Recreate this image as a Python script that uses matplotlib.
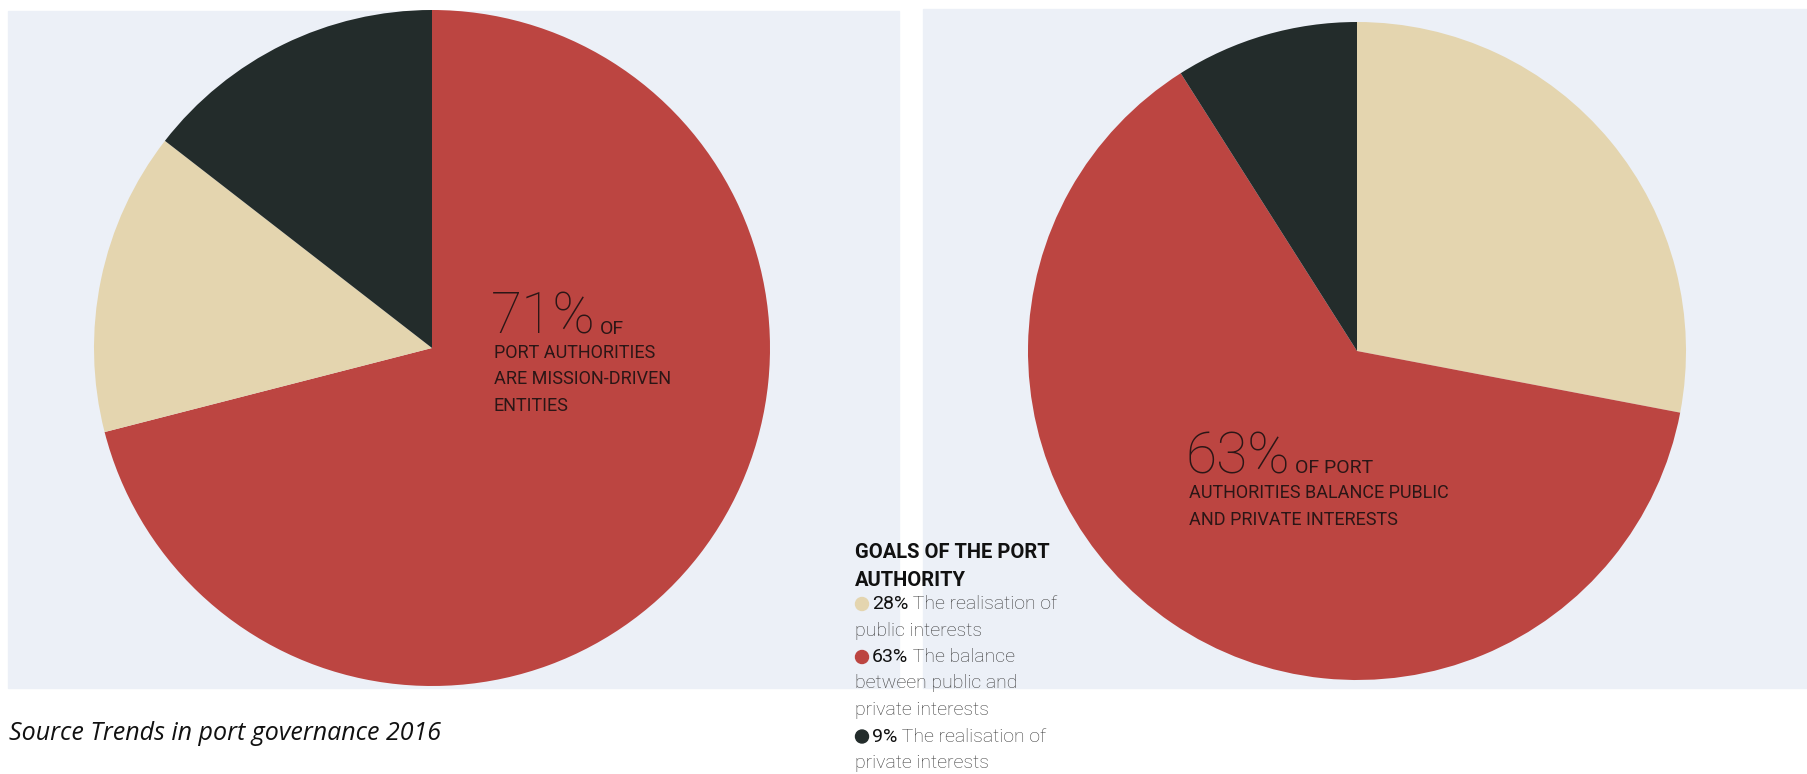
import matplotlib.pyplot as plt
from matplotlib.patches import Rectangle, Circle

W, H = 1808, 774

# share of port authorities
mission_driven = [71, 14.5, 14.5]   # left pie: red (mission-driven), beige, dark
goals = [28, 63, 9]                 # right pie: public, balance, private
left_colors = ['#BC4541', '#E4D5AF', '#232C2B']
goal_colors = ['#E4D5AF', '#BC4541', '#232C2B']

legend_title = ['GOALS OF THE PORT', 'AUTHORITY']
legend_items = [
    ('28%', ' The realisation of', ['public interests']),
    ('63%', ' The balance', ['between public and', 'private interests']),
    ('9%', ' The realisation of', ['private interests']),
]

BG = '#ECF0F7'
TXT_RED = '#2B1616'
LIGHT = 'Roboto'


def Y(y):
    return H - y


fig = plt.figure(figsize=(W / 100, H / 100), dpi=100)
ax = fig.add_axes([0, 0, 1, 1])

# panel backgrounds
ax.add_patch(Rectangle((8, Y(688)), 891, 677, color=BG, zorder=0))
ax.add_patch(Rectangle((923, Y(688)), 885, 679, color=BG, zorder=0))

# both pies run clockwise from 12 o'clock
ax.pie(mission_driven, colors=left_colors, startangle=90, counterclock=False,
       center=(432, Y(348)), radius=338, wedgeprops=dict(linewidth=0))
ax.pie(goals, colors=goal_colors, startangle=90, counterclock=False,
       center=(1357, Y(351)), radius=329, wedgeprops=dict(linewidth=0))

ax.set_xlim(0, W)
ax.set_ylim(0, H)
ax.set_aspect('auto')
ax.axis('off')

r = fig.canvas.get_renderer()


def big_pct(x, y, pct, rest):
    t = ax.text(x, Y(y), pct, fontsize=41, fontfamily=LIGHT, fontweight='light',
                color=TXT_RED, va='baseline', ha='left')
    bb = t.get_window_extent(renderer=r)
    ax.text(bb.x1 + 4, Y(y), rest, fontsize=14, fontfamily='Roboto',
            color=TXT_RED, va='baseline', ha='left')


big_pct(491, 334, '71%', 'OF')
for i, line in enumerate(['PORT AUTHORITIES', 'ARE MISSION-DRIVEN', 'ENTITIES']):
    ax.text(494, Y(353 + 26.5 * i), line, fontsize=13, fontfamily='Roboto',
            color=TXT_RED, va='center', ha='left')

big_pct(1186, 473, '63%', 'OF PORT')
for i, line in enumerate(['AUTHORITIES BALANCE PUBLIC', 'AND PRIVATE INTERESTS']):
    ax.text(1189, Y(493.5 + 26.5 * i), line, fontsize=13, fontfamily='Roboto',
            color=TXT_RED, va='center', ha='left')

# legend block
for i, line in enumerate(legend_title):
    ax.text(855, Y(553 + 27 * i), line, fontsize=14.5, fontfamily='Roboto',
            fontweight='bold', color='#111111', va='center', ha='left')

yy = 604
for (pct, head, tail), col in zip(legend_items, goal_colors):
    ax.add_patch(Circle((862, Y(yy)), 6.5, color=col, zorder=3))
    t = ax.text(872, Y(yy), pct, fontsize=14, fontfamily='Roboto',
                color='#111111', va='center', ha='left')
    bb = t.get_window_extent(renderer=r)
    ax.text(bb.x1, Y(yy), head, fontsize=14, fontfamily=LIGHT,
            fontweight='light', color='#3A3A3A', va='center', ha='left')
    for line in tail:
        yy += 26.5
        ax.text(855, Y(yy), line, fontsize=14, fontfamily=LIGHT,
                fontweight='light', color='#3A3A3A', va='center', ha='left')
    yy += 26.5

ax.text(9, Y(733), 'Source Trends in port governance 2016', fontsize=18,
        fontfamily='Open Sans', fontstyle='italic', color='#111111',
        va='center', ha='left')

fig.savefig('out.png', dpi=100)
